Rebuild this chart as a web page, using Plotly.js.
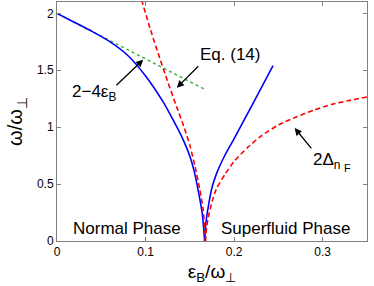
<!DOCTYPE html>
<html>
<head>
<meta charset="utf-8">
<script src="https://cdn.plot.ly/plotly-3.0.1.min.js"></script>
<style>html,body{margin:0;padding:0;background:#fff;}#chart{width:374px;height:286px;}</style>
</head>
<body>
<div id="chart"></div>
<script>
// Blue solid: normal phase branch (left) and superfluid branch (right)
var blueLeftX = [0, 0.02, 0.04, 0.06, 0.08, 0.10, 0.12, 0.13, 0.14, 0.15, 0.155, 0.16, 0.164, 0.1667];
var blueLeftY = [2.0, 1.92, 1.84, 1.75, 1.63, 1.45, 1.22, 1.08, 0.93, 0.745, 0.61, 0.42, 0.24, 0.0];
var blueRightX = [0.1667, 0.168, 0.171, 0.175, 0.18, 0.19, 0.20, 0.22, 0.2439];
var blueRightY = [0.0, 0.15, 0.31, 0.47, 0.59, 0.76, 0.90, 1.19, 1.54];
// Red dashed: Eq. (14) (left) and 2Δ_nF (right)
var redLeftX = [0.0955, 0.105, 0.115, 0.125, 0.135, 0.143, 0.150, 0.156, 0.161, 0.165, 0.1676];
var redLeftY = [2.12, 1.87, 1.63, 1.40, 1.18, 1.01, 0.84, 0.65, 0.46, 0.28, 0.0];
var redRightX = [0.1676, 0.169, 0.172, 0.176, 0.18, 0.19, 0.20, 0.215, 0.23, 0.25, 0.27, 0.29, 0.31, 0.33, 0.35];
var redRightY = [0.0, 0.13, 0.25, 0.37, 0.46, 0.59, 0.70, 0.82, 0.92, 1.02, 1.09, 1.15, 1.20, 1.235, 1.265];
// Green dotted: 2 - 4 eps_B
var greenX = [0, 0.1667];
var greenY = [2.0, 1.333];

var xTicks = [0, 0.1, 0.2, 0.3];
var xTickText = ['0', '0.1', '0.2', '0.3'];
var yTicks = [0, 0.5, 1, 1.5, 2];
var yTickText = ['0', '0.5', '1', '1.5', '2'];

var F = 'Liberation Sans, Arial, Helvetica, sans-serif';
var blueLine = {color: '#0000ff', width: 1.6, shape: 'spline', smoothing: 0.6};
var redLine = {color: '#ff0000', width: 1.6, dash: '5px,3px', shape: 'spline', smoothing: 0.6};

var traces = [
  {x: greenX, y: greenY, mode: 'lines', line: {color: '#44b044', width: 1.5, dash: 'dot'}},
  {x: blueLeftX, y: blueLeftY, mode: 'lines', line: blueLine},
  {x: blueRightX, y: blueRightY, mode: 'lines', line: blueLine},
  {x: redLeftX, y: redLeftY, mode: 'lines', line: redLine},
  {x: redRightX, y: redRightY, mode: 'lines', line: redLine}
];

function arrow(hx, hy, tx, ty) {
  return {x: hx, y: hy, ax: tx, ay: ty, xref: 'x', yref: 'y', axref: 'x', ayref: 'y',
    text: '', showarrow: true, arrowhead: 2, arrowsize: 1.1, arrowwidth: 1.3, arrowcolor: '#000', standoff: 0, startstandoff: 0};
}
function label(x, y, t, xa, size) {
  return {x: x, y: y, xref: 'x', yref: 'y', text: t, showarrow: false, xanchor: xa || 'center', yanchor: 'middle',
    font: {family: F, size: size || 17, color: '#000'}};
}

var layout = {
  width: 374, height: 286,
  margin: {l: 57, r: 7, t: 2, b: 45},
  paper_bgcolor: '#fff', plot_bgcolor: '#fff',
  showlegend: false,
  font: {family: F, color: '#000'},
  xaxis: {
    range: [0, 0.35], tickvals: xTicks, ticktext: xTickText,
    showgrid: false, zeroline: false, showline: true, mirror: 'ticks', linecolor: '#808080', linewidth: 1,
    ticks: 'inside', ticklen: 4, tickcolor: '#808080', tickfont: {family: F, size: 12, color: '#000'},
    title: {text: 'ε<sub>B</sub>/ω<sub>⊥</sub>', font: {family: F, size: 19, color: '#000'}, standoff: 6}
  },
  yaxis: {
    range: [0, 2.1], tickvals: yTicks, ticktext: yTickText,
    showgrid: false, zeroline: false, showline: true, mirror: 'ticks', linecolor: '#808080', linewidth: 1,
    ticks: 'inside', ticklen: 4, tickcolor: '#808080', tickfont: {family: F, size: 12, color: '#000'},
    title: {text: 'ω/ω<sub>⊥</sub>', font: {family: F, size: 20, color: '#000'}, standoff: 8}
  },
  annotations: [
    arrow(0.1353, 1.347, 0.1612, 1.549),
    arrow(0.0973, 1.593, 0.0654, 1.356),
    arrow(0.2683, 0.992, 0.2886, 0.801),
    label(0.195, 1.637, 'Eq. (14)'),
    label(0.0147, 1.30, '2−4ε<sub>B</sub>', 'left'),
    label(0.2864, 0.70, '2Δ<sub>n</sub>', 'left'),
    label(0.3215, 0.645, 'F', 'left', 11),
    label(0.0795, 0.114, 'Normal Phase'),
    label(0.258, 0.114, 'Superfluid Phase')
  ]
};

Plotly.newPlot('chart', traces, layout, {staticPlot: true, displayModeBar: false});
</script>
</body>
</html>
